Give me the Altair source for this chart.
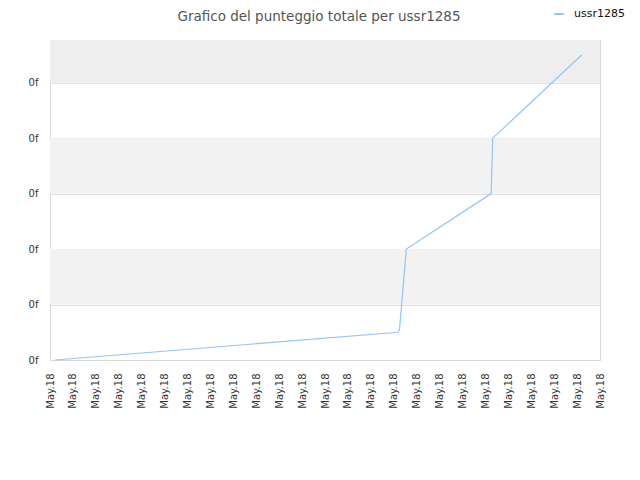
import json
import altair as alt
import pandas as pd

# line vertices (x in tick units, y in grid units)
line_x = [0.22, 15.18, 15.25, 15.55, 19.25, 19.32, 23.2]
line_y = [0.0, 0.5, 0.55, 2.0, 3.0, 4.0, 5.5]
series_name = "ussr1285"

x_tick_labels = ["May.18"] * 25
y_tick_values = [0, 1, 2, 3, 4, 5]
y_tick_label = "0f"

band_lo = [1, 3, 5]
band_hi = [2, 4, 5.77]
band_col = ["#f2f2f2", "#f2f2f2", "#eeeeee"]

df_line = pd.DataFrame({"x": line_x, "y": line_y, "s": series_name})
df_band = pd.DataFrame({"y": band_lo, "hi": band_hi, "c": band_col})

xscale = alt.Scale(domain=[0, 24], nice=False, zero=False)
yscale = alt.Scale(domain=[0, 5.77], nice=False, zero=False)

yaxis = alt.Axis(values=y_tick_values, labelExpr=f"'{y_tick_label}'",
                 ticks=False, labelPadding=12, gridColor="#e0e0e0",
                 domainColor="#d8d8d8", labelColor="#333333",
                 labelFont="DejaVu Sans", labelFontSize=10)

bands = alt.Chart(df_band).mark_rect().encode(
    x=alt.value(0), x2=alt.value(550),
    y=alt.Y("y:Q", scale=yscale, title=None, axis=yaxis),
    y2="hi:Q",
    fill=alt.Fill("c:N", scale=None, legend=None),
)

line = alt.Chart(df_line).mark_line(strokeWidth=1.2).encode(
    x=alt.X("x:Q", scale=xscale, title=None,
            axis=alt.Axis(values=list(range(len(x_tick_labels))),
                          labelExpr=f"{json.dumps(x_tick_labels)}[datum.value]",
                          labelAngle=270, labelAlign="right", labelBaseline="middle",
                          labelPadding=13, ticks=False, grid=False,
                          domainColor="#d8d8d8", labelColor="#333333",
                          labelFont="DejaVu Sans", labelFontSize=10,
                          labelOverlap=False, labelFlush=False)),
    y=alt.Y("y:Q", scale=yscale, title=None, axis=yaxis),
    color=alt.Color("s:N", scale=alt.Scale(range=["#94c4f4"]),
                    legend=alt.Legend(title=None, orient="none", legendX=503, legendY=-32,
                                      symbolType="stroke", symbolSize=90, symbolStrokeWidth=2,
                                      labelOffset=9,
                                      labelFont="DejaVu Sans", labelFontSize=11,
                                      labelColor="#111111")),
)

chart = alt.layer(bands, line).properties(
    width=550, height=320,
    padding={"left": 42, "top": 32, "right": 30, "bottom": 100},
    autosize=alt.AutoSizeParams(type="none"),
    title=alt.TitleParams("Grafico del punteggio totale per ussr1285", anchor="middle",
                          dx=-6, dy=33, offset=18, font="DejaVu Sans", fontSize=13.5,
                          fontWeight="normal", color="#555555"),
).configure_view(stroke="#d8d8d8")

chart.save("out.html", embed_options={"renderer": "svg", "actions": False})
